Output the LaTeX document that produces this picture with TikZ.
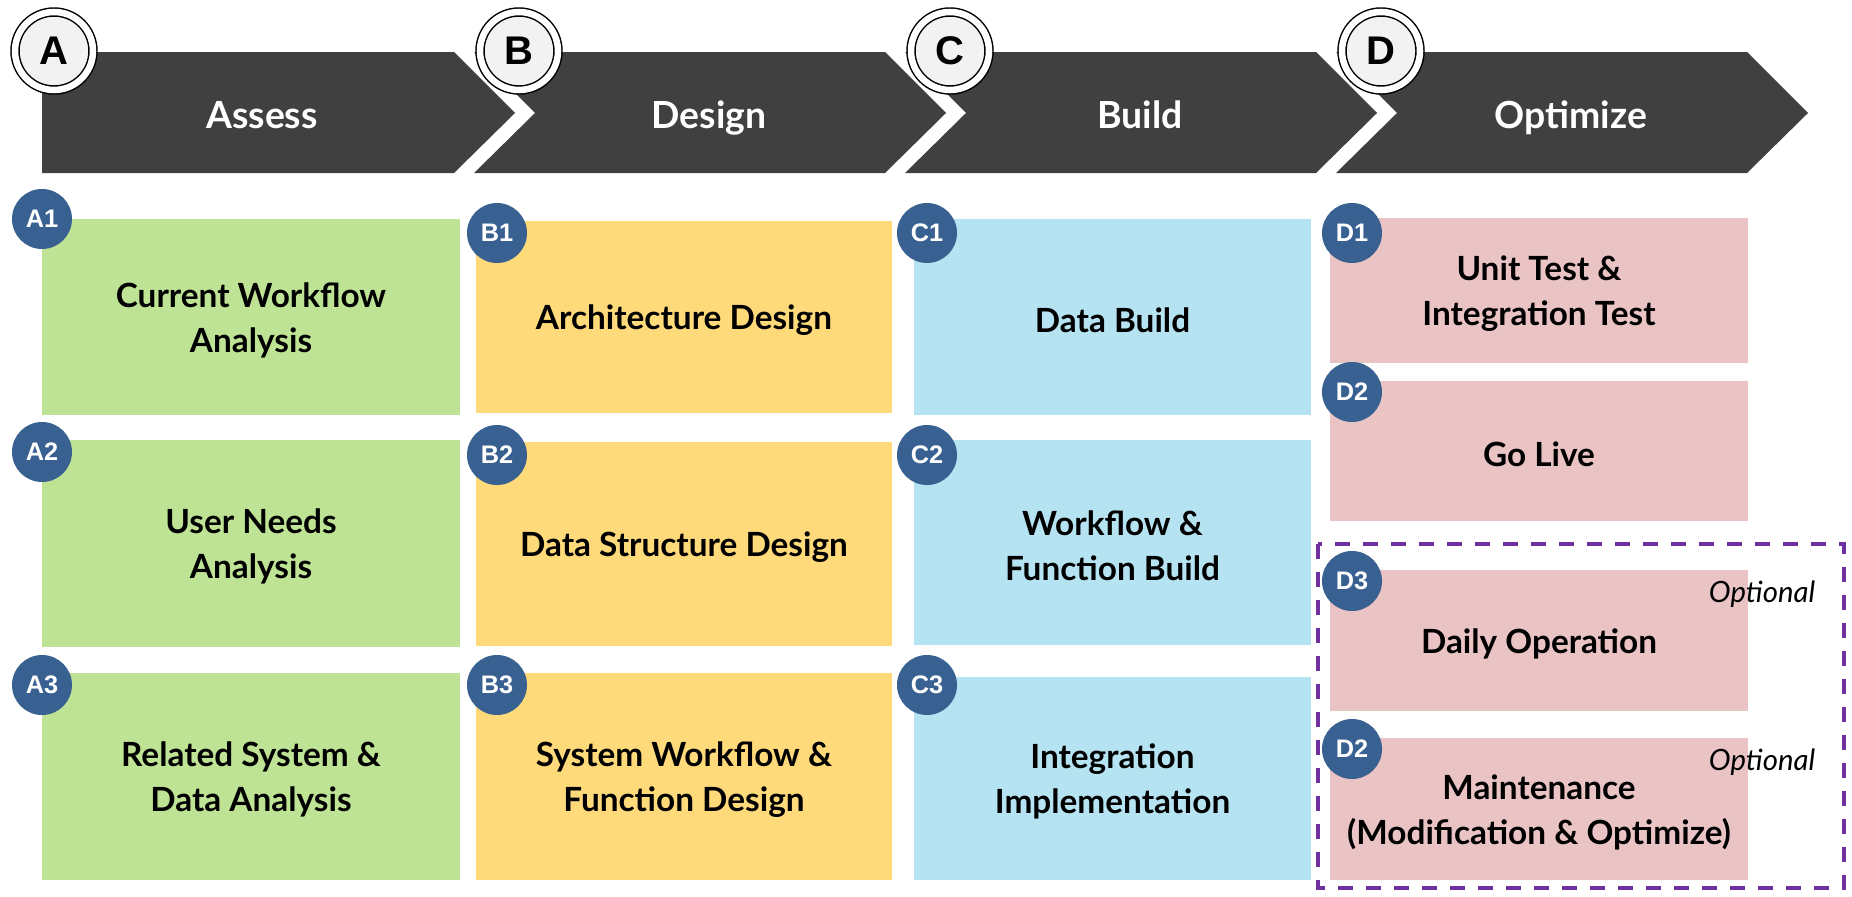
\documentclass[tikz,border=0pt]{standalone}
\usepackage{fontspec}
\setmainfont{Lato}
\newfontfamily\arialfont{Liberation Sans}
\definecolor{chev}{RGB}{64,64,64}
\definecolor{ringfill}{RGB}{242,242,242}
\definecolor{badgeblue}{RGB}{56,97,146}
\definecolor{boxgreen}{RGB}{191,227,149}
\definecolor{boxyellow}{RGB}{255,218,122}
\definecolor{boxblue}{RGB}{182,227,242}
\definecolor{boxpink}{RGB}{234,196,196}
\definecolor{optpurple}{RGB}{112,48,160}
\tikzset{
  chevtext/.style={text=white, font=\bfseries\fontsize{28}{30}\selectfont, inner sep=0pt, anchor=base},
  boxtext/.style={text=black, align=center, inner sep=0pt, font=\bfseries\fontsize{25}{33.75}\selectfont},
  badge/.style={circle, fill=badgeblue, minimum size=45pt, inner sep=0pt, text=white, font=\arialfont\bfseries\fontsize{19}{19}\selectfont},
  bigring/.style={circle, draw=black, line width=1.1pt, double=white, double distance=4.9pt, fill=ringfill, minimum size=58.5pt, inner sep=0pt, font=\arialfont\bfseries\fontsize{30}{30}\selectfont},
  opttext/.style={font=\itshape\fontsize{22}{22}\selectfont, inner sep=0pt, anchor=base},
  optframe/.style={draw=optpurple, line width=3pt, dash pattern=on 11.25pt off 9.75pt}
}
\newcommand\stepbx[7]{%
  \fill[#6] (#2,#3) rectangle (#4,#5);
  \node[boxtext] (#1) at ({(#2+#4)/2},{(#3+#5)/2+3}) {#7};}
\begin{document}
\begin{tikzpicture}[x=0.75pt,y=-0.75pt]
\useasboundingbox (0,0) rectangle (1852,896);
% chevrons
\fill[chev] (42,52) -- (454,52) -- (515,113) -- (454,173) -- (42,173) -- cycle;
\fill[chev] (474,52) -- (885,52) -- (946,113) -- (885,173) -- (474,173) -- (535,113) -- cycle;
\fill[chev] (905,52) -- (1316,52) -- (1377,113) -- (1316,173) -- (905,173) -- (966,113) -- cycle;
\fill[chev] (1336,52) -- (1747,52) -- (1808,113) -- (1747,173) -- (1336,173) -- (1397,113) -- cycle;
\node[chevtext] (tA) at (262,128) {Assess};
\node[chevtext] (tB) at (709,128) {Design};
\node[chevtext] (tC) at (1140,128) {Build};
\node[chevtext] (tD) at (1571,128) {Optimize};
\node[bigring] (cA) at (54,51) {A};
\node[bigring] (cB) at (519,51) {B};
\node[bigring] (cC) at (950,51) {C};
\node[bigring] (cD) at (1381,51) {D};
% optional frame
\draw[optframe] (1318,544) rectangle (1844,888);
% boxes
\stepbx{a1}{42}{219}{460}{415}{boxgreen}{Current Workflow\\Analysis}
\stepbx{a2}{42}{440}{460}{647}{boxgreen}{User Needs\\Analysis}
\stepbx{a3}{42}{673}{460}{880}{boxgreen}{Related System \&\\Data Analysis}
\stepbx{b1}{476}{221}{892}{413}{boxyellow}{Architecture Design}
\stepbx{b2}{476}{442}{892}{646}{boxyellow}{Data Structure Design}
\stepbx{b3}{476}{673}{892}{880}{boxyellow}{System Workflow \&\\Function Design}
\stepbx{c1}{914}{219}{1311}{415}{boxblue}{Data Build}
\stepbx{c2}{914}{440}{1311}{645}{boxblue}{Workflow \&\\Function Build}
\stepbx{c3}{914}{677}{1311}{880}{boxblue}{Integration\\Implementation}
\stepbx{d1}{1330}{218}{1748}{363}{boxpink}{Unit Test \&\\Integration Test}
\stepbx{d2}{1330}{381}{1748}{521}{boxpink}{Go Live}
\stepbx{d3}{1330}{570}{1748}{711}{boxpink}{Daily Operation}
\stepbx{d4}{1330}{738}{1748}{880}{boxpink}{Maintenance\\(Modification \& Optimize)}
% badges
\node[badge] (ba1) at (42,219) {A1};
\node[badge] (ba2) at (42,452) {A2};
\node[badge] (ba3) at (42,685) {A3};
\node[badge] (bb1) at (497,233) {B1};
\node[badge] (bb2) at (497,455) {B2};
\node[badge] (bb3) at (497,685) {B3};
\node[badge] (bc1) at (927,233) {C1};
\node[badge] (bc2) at (927,455) {C2};
\node[badge] (bc3) at (927,685) {C3};
\node[badge] (bd1) at (1352,233) {D1};
\node[badge] (bd2) at (1352,392) {D2};
\node[badge] (bd3) at (1352,581) {D3};
\node[badge] (bd4) at (1352,749) {D2};
% optional labels
\node[opttext] (o1) at (1762,602) {Optional};
\node[opttext] (o2) at (1762,770) {Optional};
\end{tikzpicture}
\end{document}
